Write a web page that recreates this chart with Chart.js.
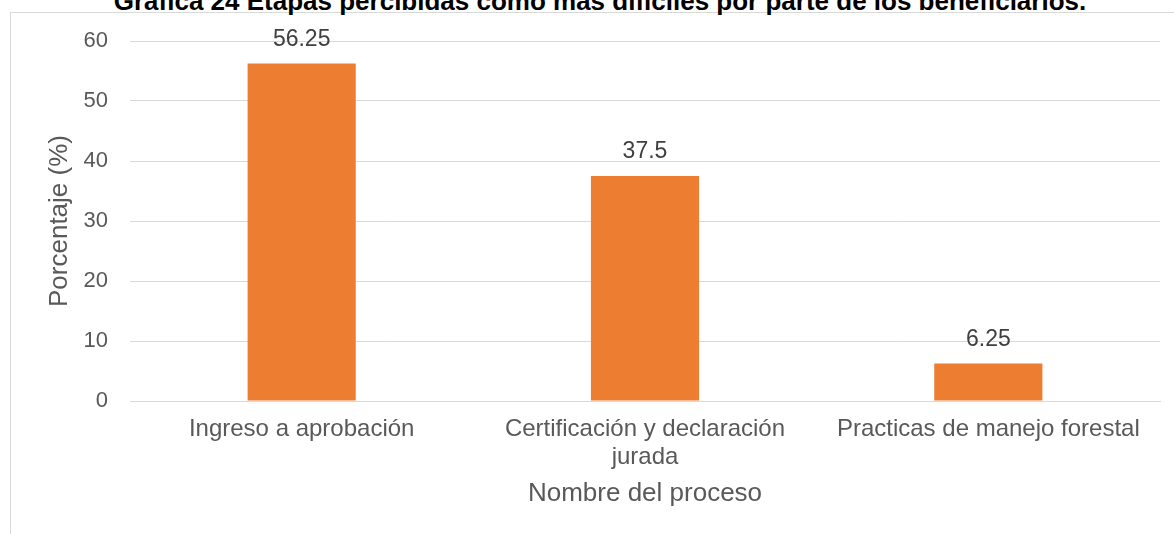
<!DOCTYPE html>
<html lang="es">
<head>
<meta charset="utf-8">
<title>Gráfica 24</title>
<script src="https://cdn.jsdelivr.net/npm/chart.js@4.4.1/dist/chart.umd.min.js"></script>
<style>
  html, body { margin: 0; padding: 0; background: #fff; overflow: hidden; }
  #wrap { position: relative; width: 1174px; height: 534px; overflow: hidden; }
  #frame {
    position: absolute; left: 10px; top: 12px; width: 1300px; height: 700px;
    border: 1px solid #d9d9d9; box-sizing: border-box;
  }
  #title {
    position: absolute; left: 0; width: 1200px; top: -14px; text-align: center;
    font: bold 26px "Liberation Sans", Arial, sans-serif; color: #000; white-space: nowrap;
    line-height: 30px;
  }
  #box { position: absolute; left: 0; top: 0; width: 1174px; height: 534px; }
</style>
</head>
<body>
<div id="wrap">
  <div id="frame"></div>
  <div id="title">Gráfica 24 Etapas percibidas como más difíciles por parte de los beneficiarios.</div>
  <div id="box"><canvas id="chart"></canvas></div>
</div>
<script>
// datos
const categorias = [
  "Ingreso a aprobación",
  ["Certificación y declaración", "jurada"],
  "Practicas de manejo forestal",
];
const porcentajes = [56.25, 37.5, 6.25];
const etiquetas = ["56.25", "37.5", "6.25"];
const ticksY = [0, 10, 20, 30, 40, 50, 60];

const FONT = "'Liberation Sans', Arial, sans-serif";
const C = {
  bar: "#ED7D31",
  grid: "#D9D9D9",
  text: "#595959",
  label: "#404040",
};

// etiquetas de datos encima de cada barra
const barLabels = {
  id: "barLabels",
  afterDatasetsDraw(chart) {
    const { ctx } = chart;
    const meta = chart.getDatasetMeta(0);
    ctx.save();
    ctx.font = `23px ${FONT}`;
    ctx.fillStyle = C.label;
    ctx.textAlign = "center";
    ctx.textBaseline = "middle";
    meta.data.forEach((bar, i) => {
      ctx.fillText(etiquetas[i], bar.x, bar.y - 24);
    });
    ctx.restore();
  },
};

new Chart(document.getElementById("chart"), {
  type: "bar",
  data: {
    labels: categorias,
    datasets: [{
      data: porcentajes,
      backgroundColor: C.bar,
      borderWidth: 0,
      barPercentage: 0.315,
      categoryPercentage: 1,
    }],
  },
  options: {
    responsive: true,
    maintainAspectRatio: false,
    animation: false,
    layout: { padding: { top: 41, right: 14, bottom: 0, left: 0 } },
    plugins: {
      legend: { display: false },
      tooltip: { enabled: false },
    },
    scales: {
      y: {
        min: ticksY[0],
        max: ticksY[ticksY.length - 1],
        afterBuildTicks: (s) => { s.ticks = ticksY.map((v) => ({ value: v })); },
        afterFit: (s) => { s.width = 130; },
        ticks: { color: C.text, font: { family: FONT, size: 22 }, padding: 22 },
        grid: { color: C.grid, lineWidth: 1, drawTicks: false },
        border: { display: false },
        title: {
          display: true,
          text: "Porcentaje (%)",
          color: C.text,
          font: { family: FONT, size: 26 },
          padding: { top: 44, bottom: 0 },
        },
      },
      x: {
        afterFit: (s) => { s.height = 133; },
        ticks: {
          color: C.text,
          font: { family: FONT, size: 24, lineHeight: 1.15 },
          padding: 15,
          maxRotation: 0,
          autoSkip: false,
        },
        grid: { display: false, drawTicks: false },
        border: { color: C.grid, width: 1 },
        title: {
          display: true,
          text: "Nombre del proceso",
          color: C.text,
          font: { family: FONT, size: 26 },
          padding: { top: 0, bottom: 25 },
        },
      },
    },
  },
  plugins: [barLabels],
});
</script>
</body>
</html>
